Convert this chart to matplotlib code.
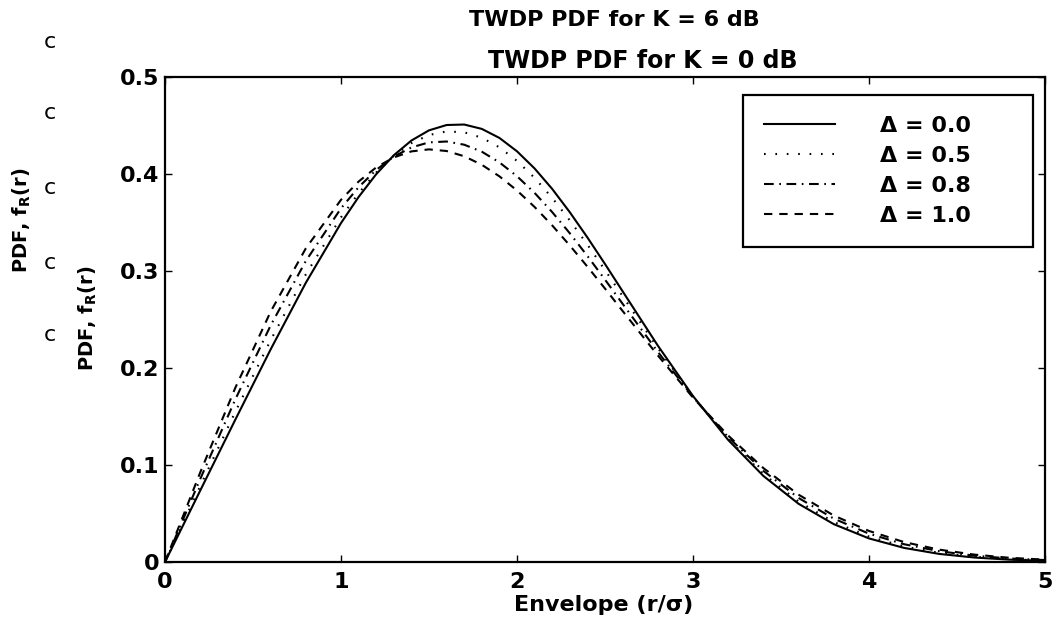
import matplotlib
matplotlib.use("Agg")
import matplotlib.pyplot as plt

# envelope r/sigma and TWDP pdf values for K = 0 dB
r = [0.0, 0.2, 0.4, 0.6, 0.8, 1.0, 1.1, 1.2, 1.3, 1.4, 1.5, 1.6, 1.7, 1.8,
     1.9, 2.0, 2.1, 2.2, 2.3, 2.4, 2.5, 2.6, 2.8, 3.0, 3.2, 3.4, 3.6, 3.8,
     4.0, 4.2, 4.4, 4.6, 4.8, 5.0]
pdf_d00 = [0, 0.0736, 0.1469, 0.2191, 0.2878, 0.3494, 0.3763, 0.3998, 0.4193,
           0.4345, 0.4450, 0.4505, 0.4510, 0.4465, 0.4372, 0.4234, 0.4057,
           0.3846, 0.3606, 0.3346, 0.3072, 0.2791, 0.2231, 0.1711, 0.1258,
           0.0887, 0.0600, 0.0390, 0.0243, 0.0145, 0.0083, 0.0046, 0.0024, 0.0012]
pdf_d05 = [0, 0.0782, 0.1550, 0.2286, 0.2965, 0.3553, 0.3802, 0.4015, 0.4188,
           0.4318, 0.4402, 0.4439, 0.4430, 0.4374, 0.4275, 0.4135, 0.3960,
           0.3754, 0.3522, 0.3272, 0.3010, 0.2741, 0.2206, 0.1707, 0.1269,
           0.0907, 0.0623, 0.0412, 0.0262, 0.0160, 0.0094, 0.0053, 0.0029, 0.0015]
pdf_d08 = [0, 0.0855, 0.1678, 0.2438, 0.3103, 0.3646, 0.3864, 0.4042, 0.4179,
           0.4274, 0.4326, 0.4335, 0.4302, 0.4230, 0.4120, 0.3977, 0.3805,
           0.3607, 0.3389, 0.3155, 0.2911, 0.2662, 0.2167, 0.1701, 0.1287,
           0.0939, 0.0660, 0.0447, 0.0292, 0.0183, 0.0111, 0.0065, 0.0036, 0.0020]
pdf_d10 = [0, 0.0923, 0.1798, 0.2580, 0.3233, 0.3734, 0.3922, 0.4068, 0.4171,
           0.4233, 0.4254, 0.4237, 0.4183, 0.4095, 0.3976, 0.3830, 0.3660,
           0.3470, 0.3263, 0.3045, 0.2819, 0.2588, 0.2130, 0.1695, 0.1303,
           0.0968, 0.0694, 0.0479, 0.0320, 0.0205, 0.0127, 0.0076, 0.0043, 0.0024]

labels = ["Δ = 0.0", "Δ = 0.5", "Δ = 0.8", "Δ = 1.0"]
xticks = [0, 1, 2, 3, 4, 5]
yticks = [0, 0.1, 0.2, 0.3, 0.4, 0.5]
ytick_labels = ["0", "0.1", "0.2", "0.3", "0.4", "0.5"]

plt.rcParams['font.family'] = ['DejaVu Sans']
plt.rcParams['font.weight'] = 'bold'
plt.rcParams['axes.labelweight'] = 'bold'
plt.rcParams['mathtext.default'] = 'regular'
plt.rcParams['lines.scale_dashes'] = False

W, H = 1053, 626
fig = plt.figure(figsize=(W / 100, H / 100), dpi=100)
ax = fig.add_axes([165 / W, 64 / H, 880 / W, 485 / H])

styles = ['-', (0, (1.2, 7)), (0, (7, 4, 1.2, 4)), (0, (6, 5))]
series = [pdf_d00, pdf_d05, pdf_d08, pdf_d10]
for y, ls, lab in zip(series, styles, labels):
    ax.plot(r, y, color='black', linestyle=ls, linewidth=1.5, label=lab)

ax.set_xlim(0, 5)
ax.set_ylim(0, 0.5)
ax.set_xticks(xticks)
ax.set_xticklabels([str(t) for t in xticks])
ax.set_yticks(yticks)
ax.set_yticklabels(ytick_labels)
ax.tick_params(direction='in', top=True, right=True, length=5, width=1,
               labelsize=16, colors='black')
ax.tick_params(axis='x', pad=7)
ax.tick_params(axis='y', pad=4)
for sp in ax.spines.values():
    sp.set_linewidth(1.6)
    sp.set_color('black')

ax.set_xlabel("Envelope (r/σ)", fontsize=16, va='center')
ax.xaxis.set_label_coords(0.499, -0.089)
ax.set_ylabel("PDF, f$_R$(r)", fontsize=14, va='center')
ax.yaxis.set_label_coords(-0.0875, 0.503)

leg = ax.legend(bbox_to_anchor=(0.657, 0, 0.329, 0.963), loc='upper left',
                mode='expand', borderaxespad=0, fontsize=16,
                handlelength=3.2, handletextpad=2.0, labelspacing=0.45,
                borderpad=0.95, fancybox=False, framealpha=1)
leg.get_frame().set_edgecolor('black')
leg.get_frame().set_linewidth(1.6)

# titles (two overlapping figures in the scan)
fig.text(614 / W, 1 - 20 / H, "TWDP PDF for K = 6 dB", ha='center', va='center',
         fontsize=16)
fig.text(643 / W, 1 - 61 / H, "TWDP PDF for K = 0 dB", ha='center', va='center',
         fontsize=17)

# remnants of the other figure on the left
fig.text(22 / W, 1 - 220 / H, "PDF, f$_R$(r)", rotation=90, ha='center',
         va='center', fontsize=14)
for yy in [42, 113, 188, 263, 335]:
    fig.text(50 / W, 1 - yy / H, "c", ha='center', va='center', fontsize=16,
             fontweight='normal')

fig.savefig("out.png", dpi=100)
